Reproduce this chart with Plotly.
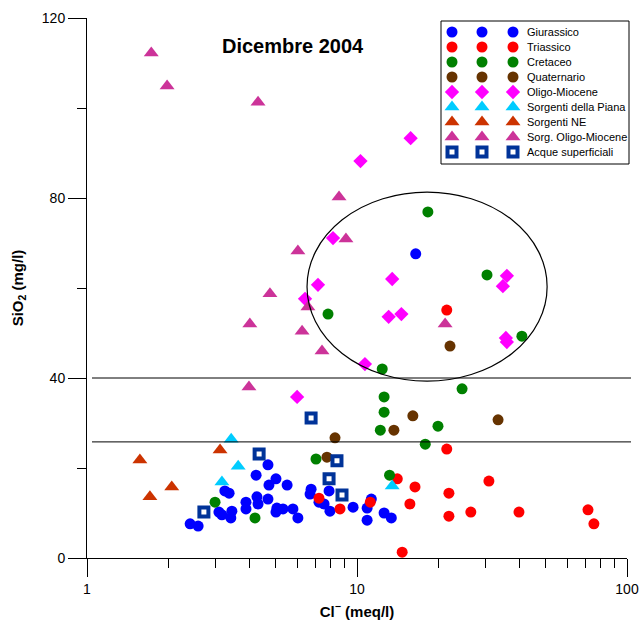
import plotly.graph_objects as go

# ---- data: chloride (meq/l) vs silica (mg/l), December 2004 ----
cl_giurassico = [4.68, 4.23, 5.01, 4.72, 5.51, 6.76, 6.70, 7.88, 3.24, 3.36, 3.88, 4.26, 4.30, 4.68,
                 3.88, 5.05, 5.01, 5.32, 5.79, 6.04, 7.23, 7.55, 7.94, 9.67, 3.08, 3.16, 3.44, 3.41,
                 2.41, 2.58, 10.9, 11.3, 10.9, 12.6, 13.4, 16.5]
si_giurassico = [20.7, 18.4, 17.6, 16.2, 16.2, 15.3, 14.2, 14.9, 14.9, 14.4, 12.4, 13.6, 12.0, 13.1,
                 10.9, 11.1, 10.2, 10.9, 10.9, 8.9, 12.4, 12.0, 10.4, 11.3, 10.2, 9.6, 10.4, 8.9,
                 7.6, 7.1, 11.1, 13.1, 8.4, 10.0, 8.9, 67.6]

cl_triassico = [21.5, 21.5, 14.1, 16.4, 30.8, 21.9, 15.7, 7.23, 8.65, 11.2, 21.9, 26.4, 39.8, 71.7, 75.4, 14.7]
si_triassico = [55.1, 24.2, 17.6, 15.8, 17.1, 14.4, 12.0, 13.3, 10.9, 12.4, 9.3, 10.2, 10.2, 10.7, 7.6, 1.3]

cl_cretaceo = [18.3, 30.3, 40.8, 7.81, 12.4, 24.5, 12.6, 12.6, 19.95, 12.2, 17.9, 7.05, 13.2, 2.98, 4.19]
si_cretaceo = [76.9, 62.9, 49.3, 54.2, 42.0, 37.6, 35.8, 32.4, 29.3, 28.4, 25.3, 22.0, 18.4, 12.4, 8.9]

cl_quaternario = [22.1, 16.1, 33.3, 13.7, 8.29, 7.74]
si_quaternario = [47.1, 31.6, 30.7, 28.4, 26.7, 22.4]

cl_oligo = [10.3, 15.8, 8.15, 7.17, 6.42, 13.5, 35.9, 34.7, 13.1, 14.6, 35.6, 35.9, 10.7, 6.0]
si_oligo = [88.2, 93.3, 71.1, 60.7, 57.6, 62.0, 62.7, 60.4, 53.6, 54.2, 48.9, 48.0, 43.1, 35.8]

cl_piana = [3.42, 3.63, 3.16, 13.5]
si_piana = [26.4, 20.4, 16.9, 16.0]

cl_ne = [3.11, 1.57, 2.06, 1.71]
si_ne = [24.0, 21.8, 15.8, 13.6]

cl_sorg_oligo = [1.73, 1.98, 4.30, 8.58, 9.10, 6.04, 4.76, 6.58, 4.01, 6.26, 7.42, 21.2, 3.98]
si_sorg_oligo = [112.2, 104.9, 101.3, 80.2, 70.9, 68.2, 58.7, 55.8, 52.0, 50.4, 46.0, 52.0, 38.0]

cl_acque = [6.76, 4.34, 8.43, 7.88, 8.80, 2.71]
si_acque = [31.1, 23.1, 21.6, 17.6, 14.0, 10.2]

# reference levels and highlighted group (ellipse bounds in data units)
ref_levels = [40, 25.8]
ellipse_cl = (6.53, 50.6)
ellipse_si = (39.3, 81.3)

x_ticks = [1, 10, 100]
x_minor = [2, 3, 4, 5, 6, 7, 8, 9, 20, 30, 40, 50, 60, 70, 80, 90]
y_ticks = [0, 40, 80, 120]
y_minor = [20, 60, 100]

FONT = "Arial, Liberation Sans, sans-serif"

series = [
    ("Giurassico", cl_giurassico, si_giurassico, dict(symbol="circle", color="#0000FF", size=11)),
    ("Triassico", cl_triassico, si_triassico, dict(symbol="circle", color="#FF0000", size=11)),
    ("Cretaceo", cl_cretaceo, si_cretaceo, dict(symbol="circle", color="#008000", size=11)),
    ("Quaternario", cl_quaternario, si_quaternario, dict(symbol="circle", color="#663300", size=11)),
    ("Oligo-Miocene", cl_oligo, si_oligo, dict(symbol="diamond", color="#FF00FF", size=11)),
    ("Sorgenti della Piana", cl_piana, si_piana, dict(symbol="triangle-up", color="#00CCFF", size=13)),
    ("Sorgenti NE", cl_ne, si_ne, dict(symbol="triangle-up", color="#CC3300", size=13)),
    ("Sorg. Oligo-Miocene", cl_sorg_oligo, si_sorg_oligo, dict(symbol="triangle-up", color="#CC3399", size=13)),
    ("Acque superficiali", cl_acque, si_acque,
     dict(symbol="square-open", color="#003399", size=9, line=dict(width=4, color="#003399"))),
]

fig = go.Figure()

for name, xs, ys, mk in series:
    m = dict(mk)
    if "line" not in m:
        m["line"] = dict(width=0)
    fig.add_trace(go.Scatter(x=xs, y=ys, mode="markers", name=name, marker=m,
                             showlegend=False, cliponaxis=False))

# custom legend: three swatches per entry on an overlay axis in paper units
L, R, B, T = 87, 627, 558, 18
W, H = R - L, B - T


def px_x(p):
    return (p - L) / W


def px_y(p):
    return (B - p) / H


swatch_px = [452, 482, 513]
row0, row_step = 32, 15
for i, (name, xs, ys, mk) in enumerate(series):
    m = dict(mk)
    if "line" not in m:
        m["line"] = dict(width=0)
    yy = px_y(row0 + i * row_step)
    fig.add_trace(go.Scatter(x=[px_x(p) for p in swatch_px], y=[yy] * 3, mode="markers",
                             marker=m, xaxis="x2", yaxis="y2", showlegend=False,
                             hoverinfo="skip", cliponaxis=False))
    fig.add_annotation(x=px_x(525), y=yy, xref="paper", yref="paper", text=name,
                       showarrow=False, xanchor="left", yanchor="middle",
                       font=dict(family=FONT, size=11, color="black"))

fig.add_shape(type="rect", xref="paper", yref="paper",
              x0=px_x(441), x1=px_x(629), y0=px_y(164), y1=px_y(21),
              line=dict(color="black", width=1), fillcolor="rgba(0,0,0,0)", layer="below")

for lvl in ref_levels:
    fig.add_shape(type="line", xref="paper", yref="y", x0=px_x(92), x1=px_x(631), y0=lvl, y1=lvl,
                  line=dict(color="black", width=1))

fig.add_shape(type="circle", xref="x", yref="y",
              x0=ellipse_cl[0], x1=ellipse_cl[1], y0=ellipse_si[0], y1=ellipse_si[1],
              line=dict(color="black", width=1.2))

fig.add_annotation(x=px_x(293), y=px_y(33), xref="paper", yref="paper",
                   text="<b>Dicembre 2004</b>", showarrow=False,
                   font=dict(family=FONT, size=20, color="black"))

fig.update_layout(
    width=639, height=625,
    margin=dict(l=L, r=639 - R, t=T, b=625 - B, autoexpand=False),
    paper_bgcolor="white", plot_bgcolor="white",
    font=dict(family=FONT, size=14, color="black"),
    xaxis=dict(type="log", range=[0, 2], tickmode="array", tickvals=x_ticks,
               ticktext=[str(v) for v in x_ticks], automargin=False,
               ticks="outside", ticklen=18, tickwidth=1, tickcolor="black",
               minor=dict(tickmode="array", tickvals=x_minor, ticks="outside", ticklen=9,
                          tickwidth=1, tickcolor="black", showgrid=False),
               showline=True, linecolor="black", linewidth=1, showgrid=False, zeroline=False,
               tickfont=dict(size=14),
               title=dict(text="<b>Cl<sup>−</sup> (meq/l)</b>", font=dict(size=15), standoff=10)),
    yaxis=dict(range=[0, 120], tickmode="array", tickvals=y_ticks, automargin=False,
               ticks="outside", ticklen=18, tickwidth=1, tickcolor="black",
               minor=dict(tickmode="array", tickvals=y_minor, ticks="outside", ticklen=9,
                          tickwidth=1, tickcolor="black", showgrid=False),
               showline=True, linecolor="black", linewidth=1, showgrid=False, zeroline=False,
               tickfont=dict(size=14),
               title=dict(text="<b>SiO<sub>2</sub> (mg/l)</b>", font=dict(size=15), standoff=14)),
    xaxis2=dict(overlaying="x", range=[0, 1], visible=False, fixedrange=True, automargin=False),
    yaxis2=dict(overlaying="y", range=[0, 1], visible=False, fixedrange=True, automargin=False),
    showlegend=False,
)

fig.write_html("out.html")
